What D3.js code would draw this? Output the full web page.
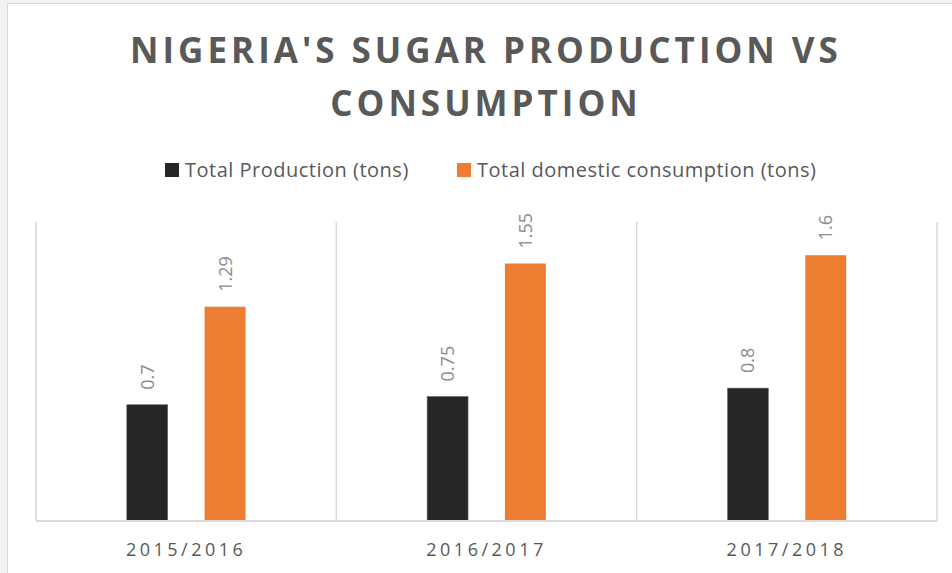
<!DOCTYPE html>
<html>
<head>
<meta charset="utf-8">
<script src="https://cdn.jsdelivr.net/npm/d3@7"></script>
<style>
  html, body { margin: 0; padding: 0; background: #f2f2f2; }
  svg { display: block; }
</style>
</head>
<body>
<svg id="chart" width="952" height="573"></svg>
<script>
// data
var categories = ["2015/2016", "2016/2017", "2017/2018"];
var seriesNames = ["Total Production (tons)", "Total domestic consumption (tons)"];
var production = [0.7, 0.75, 0.8];
var consumption = [1.29, 1.55, 1.6];
var yMax = 1.8;

var seriesColors = ["#262626", "#ed7d31"];
var font = "'Open Sans', 'DejaVu Sans', sans-serif";

var svg = d3.select("#chart");

// white chart panel with its thin frame
svg.append("rect")
    .attr("x", 7.5).attr("y", 3.5)
    .attr("width", 952).attr("height", 573)
    .attr("fill", "#ffffff")
    .attr("stroke", "#d9d9d9");

// plot area (left, right, top, bottom)
var plotL = 36, plotR = 937, plotT = 222, plotB = 521;

var x = d3.scaleBand().domain(categories).range([plotL, plotR]).padding(0);
var xs = d3.scaleBand().domain([0, 1]).range([0, x.bandwidth()])
    .paddingInner(0.474).paddingOuter(1.167);
var y = d3.scaleLinear().domain([0, yMax]).range([plotB, plotT]);

// category separator lines
var seps = categories.map(function (c) { return x(c); }).concat([plotR]);
svg.append("g").selectAll("line")
    .data(seps)
    .enter().append("line")
    .attr("x1", function (d) { return d; })
    .attr("x2", function (d) { return d; })
    .attr("y1", plotT).attr("y2", plotB)
    .attr("stroke", "#d9d9d9").attr("stroke-width", 1.5);

// bars
var rows = [];
categories.forEach(function (c, i) {
    rows.push({ cat: c, s: 0, v: production[i] });
    rows.push({ cat: c, s: 1, v: consumption[i] });
});

svg.append("g").selectAll("rect")
    .data(rows)
    .enter().append("rect")
    .attr("x", function (d) { return x(d.cat) + xs(d.s); })
    .attr("y", function (d) { return y(d.v); })
    .attr("width", xs.bandwidth())
    .attr("height", function (d) { return plotB - y(d.v); })
    .attr("fill", function (d) { return seriesColors[d.s]; })
    .attr("stroke", function (d) { return d.s == 0 ? "#6f6f6f" : "none"; })
    .attr("stroke-width", 0.6);

// rotated value labels
svg.append("g").selectAll("text")
    .data(rows)
    .enter().append("text")
    .attr("transform", function (d) {
        var cx = x(d.cat) + xs(d.s) + xs.bandwidth() / 2;
        return "translate(" + cx + "," + (y(d.v) - 15) + ") rotate(-90)";
    })
    .attr("dy", "0.36em")
    .attr("font-family", font)
    .attr("font-size", 18)
    .attr("fill", "#8c8c8c")
    .text(function (d) { return d.v; });

// baseline
svg.append("line")
    .attr("x1", plotL).attr("x2", plotR)
    .attr("y1", plotB).attr("y2", plotB)
    .attr("stroke", "#d9d9d9").attr("stroke-width", 2);

// category labels
var xAxis = d3.axisBottom(x).tickSize(0).tickPadding(0);
var gx = svg.append("g")
    .attr("transform", "translate(0," + plotB + ")")
    .call(xAxis);
gx.select(".domain").remove();
gx.selectAll("text")
    .attr("y", 35)
    .attr("dy", 0)
    .attr("font-family", font)
    .attr("font-size", 18)
    .attr("letter-spacing", 3.5)
    .attr("fill", "#595959");

// title
var titleLines = ["NIGERIA'S SUGAR PRODUCTION VS", "CONSUMPTION"];
svg.append("g").selectAll("text")
    .data(titleLines)
    .enter().append("text")
    .attr("x", 486)
    .attr("y", function (d, i) { return 63 + i * 53; })
    .attr("text-anchor", "middle")
    .attr("font-family", font)
    .attr("font-weight", "bold")
    .attr("font-size", 35)
    .attr("letter-spacing", 4)
    .attr("fill", "#595959")
    .text(function (d) { return d; });

// legend
var legendX = [165, 457];
var lg = svg.append("g").selectAll("g")
    .data(seriesNames)
    .enter().append("g")
    .attr("transform", function (d, i) { return "translate(" + legendX[i] + ",163)"; });
lg.append("rect")
    .attr("width", 14).attr("height", 14)
    .attr("fill", function (d, i) { return seriesColors[i]; });
lg.append("text")
    .attr("x", 20).attr("y", 14)
    .attr("font-family", font)
    .attr("font-size", 20)
    .attr("letter-spacing", 0.5)
    .attr("fill", "#595959")
    .text(function (d) { return d; });
</script>
</body>
</html>
